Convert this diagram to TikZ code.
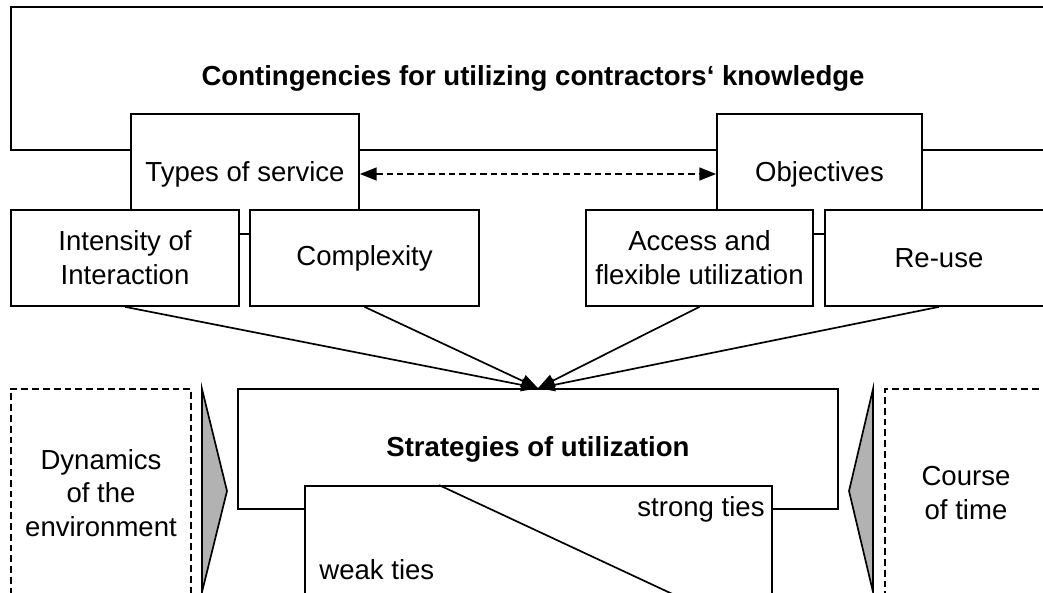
\documentclass[tikz,border=0pt]{standalone}
\usepackage{fontspec}
\setmainfont{Liberation Sans}
\usetikzlibrary{arrows.meta}

\begin{document}
\begin{tikzpicture}[
    >={Triangle[length=0.42cm,width=0.32cm]},
    every node/.style={font=\fontsize{19.6}{24}\selectfont},
    infobox/.style={draw, line width=1.2pt, fill=white, align=center, inner sep=0pt},
    dashbox/.style={draw, line width=1.5pt, dash pattern=on 0.17cm off 0.1cm, align=center, inner sep=0pt},
    greywedge/.style={draw, line width=1.2pt, fill=black!30, line join=miter}
]
    % Frame of the figure
    \useasboundingbox (0,0) rectangle (26.075,14.8);
    \clip (0,0) rectangle (26.075,14.8);

    % Contingencies (upper part)
    \node[infobox, minimum width=26.1cm, minimum height=3.575cm] (cont) at (13.325,12.8375) {\bfseries Contingencies for utilizing contractors‘ knowledge};
    \node[infobox, minimum width=5.7cm, minimum height=3cm] (types) at (6.125,10.45) {Types of service};
    \node[infobox, minimum width=5.125cm, minimum height=3cm] (obj) at (20.4875,10.45) {Objectives};

    % Factors
    \node[infobox, minimum width=5.7cm, minimum height=2.4cm] (inten) at (3.125,8.35) {Intensity of\\Interaction};
    \node[infobox, minimum width=5.725cm, minimum height=2.4cm] (compl) at (9.1125,8.35) {Complexity};
    \node[infobox, minimum width=5.675cm, minimum height=2.4cm] (access) at (17.4875,8.35) {Access and\\flexible utilization};
    \node[infobox, minimum width=5.7cm, minimum height=2.4cm] (reuse) at (23.475,8.35) {Re-use};

    % Link between the two groups (dashed)
    \draw[<->, line width=1.4pt, dash pattern=on 0.16cm off 0.1cm] (types.east) -- (obj.west);

    % Strategies (lower part)
    \node[infobox, minimum width=15cm, minimum height=3cm] (strat) at (13.45,3.575) {\bfseries Strategies of utilization};
    \node[infobox, minimum width=11.675cm, minimum height=3.85cm] (ties) at (13.4625,0.725) {};
    \coordinate (split) at ([xshift=3.375cm]ties.north west);
    \draw[line width=1.2pt] (split) -- (ties.south east);
    \node[anchor=east, inner sep=0pt] (strong) at ([xshift=-0.2cm,yshift=-0.6cm]ties.north east) {strong ties};
    \node[anchor=base west, inner sep=0pt] (weak) at ([xshift=0.375cm,yshift=-2.35cm]ties.north west) {weak ties};

    % Arrows into the strategies
    \draw[->, line width=1.2pt] (inten.south) -- (strat.north);
    \draw[->, line width=1.2pt] (compl.south) -- (strat.north);
    \draw[->, line width=1.2pt] (access.south) -- (strat.north);
    \draw[->, line width=1.2pt] (reuse.south) -- (strat.north);

    % Outer influences
    \node[dashbox, minimum width=4.5cm, minimum height=5.2cm] (dyn) at (2.525,2.475) {Dynamics\\of the\\environment};
    \node[dashbox, minimum width=4.05cm, minimum height=5.2cm] (time) at (24.15,2.475) {Course\\of time};
    \draw[greywedge] (5.05,5.075) -- (5.675,2.525) -- (5.05,0) -- cycle;
    \draw[greywedge] (21.825,5.075) -- (21.225,2.525) -- (21.825,0) -- cycle;

\end{tikzpicture}
\end{document}
